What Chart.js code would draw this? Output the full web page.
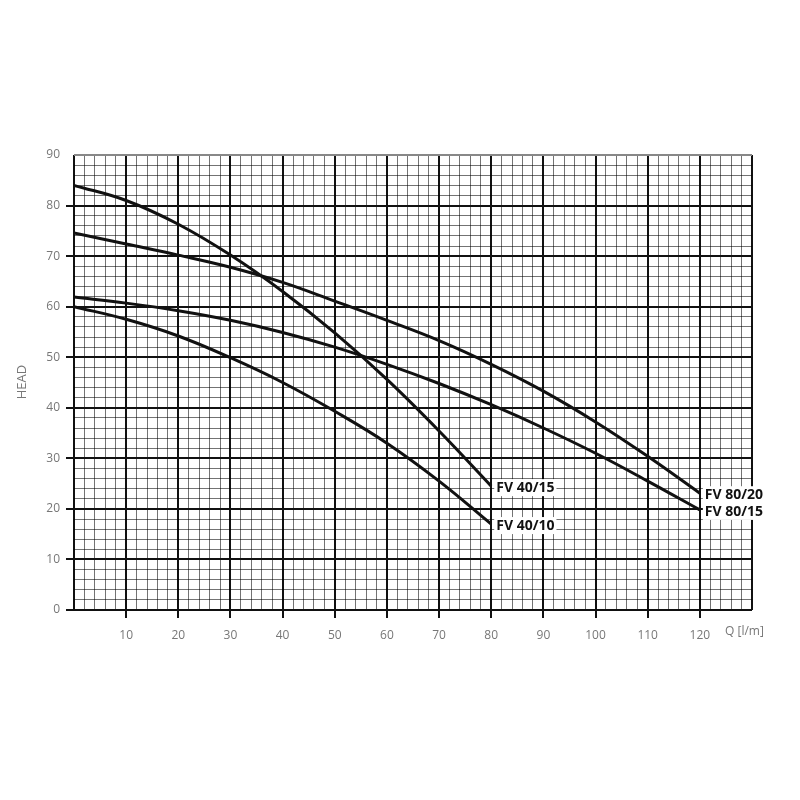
<!DOCTYPE html>
<html>
<head>
<meta charset="utf-8">
<script src="https://cdn.jsdelivr.net/npm/chart.js@4"></script>
<style>
  body { margin: 0; background: #fff; }
  canvas { display: block; }
</style>
</head>
<body>
<canvas id="pump-chart" width="800" height="800"></canvas>
<script>
// Flow rate Q [l/m] sample points
const flow40 = [0, 10, 20, 30, 40, 50, 60, 70, 80];
const flow80 = [0, 10, 20, 30, 40, 50, 60, 70, 80, 90, 100, 110, 120];

// Head values
const headFV4015 = [84.0, 81.0, 76.3, 70.2, 63.0, 54.8, 45.6, 35.4, 24.5];
const headFV4010 = [60.0, 57.5, 54.2, 49.9, 45.0, 39.3, 33.0, 25.5, 17.0];
const headFV8020 = [74.6, 72.4, 70.2, 67.8, 64.8, 61.1, 57.3, 53.3, 48.6, 43.3, 37.2, 30.4, 23.1];
const headFV8015 = [61.9, 60.7, 59.2, 57.3, 54.9, 52.0, 48.6, 44.8, 40.6, 36.0, 31.0, 25.5, 19.8];

const seriesNames = ["FV 40/15", "FV 40/10", "FV 80/20", "FV 80/15"];

// x tick labels shown under the grid
const xTickLabels = [10, 20, 30, 40, 50, 60, 70, 80, 90, 100, 110, 120];

function toPoints(xs, ys) {
  return xs.map((x, i) => ({ x: x, y: ys[i] }));
}

function curve(label, xs, ys) {
  return {
    label: label,
    data: toPoints(xs, ys),
    borderColor: "#111",
    borderWidth: 3,
    pointRadius: 0,
    fill: false,
    tension: 0.4,
  };
}

// Draws the series names at the end of each curve
const endLabels = {
  id: "endLabels",
  afterDatasetsDraw(chart) {
    const c = chart.ctx;
    c.save();
    c.font = "bold 14px 'Open Sans'";
    c.textBaseline = "middle";
    chart.data.datasets.forEach((ds, i) => {
      const meta = chart.getDatasetMeta(i);
      const pt = meta.data[meta.data.length - 1];
      const w = c.measureText(ds.label).width;
      c.fillStyle = "#fff";
      c.fillRect(pt.x + 3, pt.y - 7, w + 4, 17);
      c.fillStyle = "#111";
      c.fillText(ds.label, pt.x + 5, pt.y + 2);
    });
    c.restore();
  },
};

// Axis captions
const axisCaptions = {
  id: "axisCaptions",
  afterDraw(chart) {
    const c = chart.ctx;
    c.save();
    c.fillStyle = "#777";
    c.font = "13px 'Open Sans'";
    c.textAlign = "center";
    c.textBaseline = "middle";
    c.translate(22, 382);
    c.rotate(-Math.PI / 2);
    c.fillText("HEAD", 0, 0);
    c.restore();

    c.save();
    c.fillStyle = "#777";
    c.font = "12px 'Open Sans'";
    c.textBaseline = "middle";
    c.fillText("Q [l/m]", 725, 632);
    c.restore();
  },
};

const isMajor = (v) => Math.abs(v % 10) < 1e-6;

const ctx = document.getElementById("pump-chart").getContext("2d");
const chart = new Chart(ctx, {
  type: "line",
  data: {
    datasets: [
      curve(seriesNames[0], flow40, headFV4015),
      curve(seriesNames[1], flow40, headFV4010),
      curve(seriesNames[2], flow80, headFV8020),
      curve(seriesNames[3], flow80, headFV8015),
    ],
  },
  options: {
    responsive: false,
    animation: false,
    layout: { padding: { top: 155, right: 48, left: 0, bottom: 0 } },
    plugins: {
      legend: { display: false },
      tooltip: { enabled: false },
    },
    scales: {
      x: {
        type: "linear",
        min: 0,
        max: 130,
        afterFit: (scale) => { scale.height = 190; },
        afterBuildTicks: (scale) => {
          scale.ticks = [];
          for (let v = 0; v <= 130; v += 2) scale.ticks.push({ value: v });
        },
        border: { display: false },
        grid: {
          color: (c) => (isMajor(c.tick.value) ? "#111" : "rgba(0,0,0,0.55)"),
          lineWidth: (c) => (isMajor(c.tick.value) ? 2 : 1),
          tickColor: (c) => (xTickLabels.includes(c.tick.value) ? "#111" : "rgba(0,0,0,0)"),
          tickLength: 8,
          tickWidth: 2,
        },
        ticks: {
          autoSkip: false,
          maxRotation: 0,
          padding: 10,
          color: "#777",
          font: { family: "'Open Sans'", size: 12 },
          callback: (v) => (xTickLabels.includes(v) ? String(v) : ""),
        },
      },
      y: {
        min: 0,
        max: 90,
        afterFit: (scale) => { scale.width = 74; },
        afterBuildTicks: (scale) => {
          scale.ticks = [];
          for (let v = 0; v <= 90; v += 2) scale.ticks.push({ value: v });
        },
        border: { display: false },
        grid: {
          color: (c) => {
            if (c.tick.value === 90) return "#888";
            return isMajor(c.tick.value) ? "#111" : "rgba(0,0,0,0.55)";
          },
          lineWidth: (c) => (isMajor(c.tick.value) ? 2 : 1),
          tickColor: (c) => (isMajor(c.tick.value) && c.tick.value !== 90 ? "#111" : "rgba(0,0,0,0)"),
          tickLength: 8,
          tickWidth: 2,
        },
        ticks: {
          autoSkip: false,
          padding: 6,
          color: "#777",
          font: { family: "'Open Sans'", size: 12 },
          callback: (v) => (isMajor(v) ? String(v) : ""),
        },
      },
    },
  },
  plugins: [endLabels, axisCaptions],
});
</script>
</body>
</html>
